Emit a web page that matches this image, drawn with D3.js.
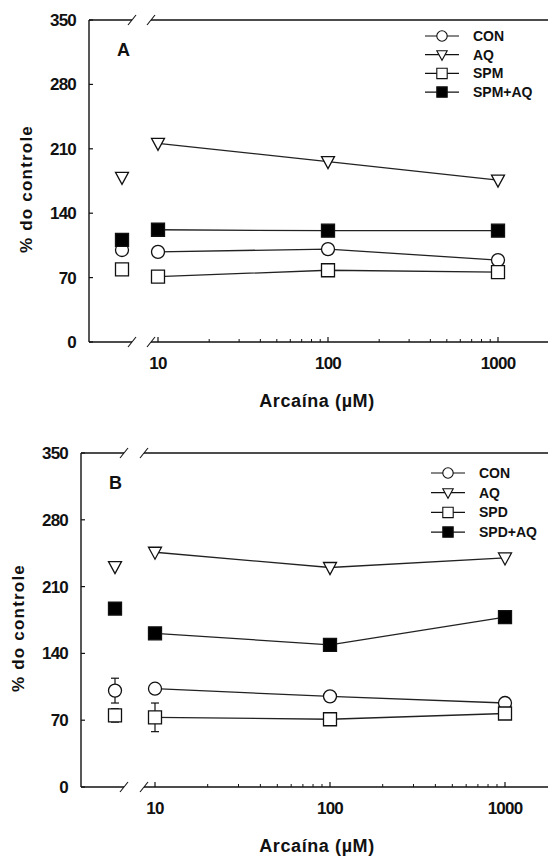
<!DOCTYPE html>
<html>
<head>
<meta charset="utf-8">
<script src="https://cdn.jsdelivr.net/npm/d3@7"></script>
<style>
  body { margin: 0; background: #fff; }
  svg { display: block; font-family: "Liberation Sans", Arial, sans-serif; }
</style>
</head>
<body>
<div id="chart"></div>
<script>
// doses on the log axis
const doses = [10, 100, 1000];
const yTicks = [0, 70, 140, 210, 280, 350];

// panel A
const namesA = ["CON", "AQ", "SPM", "SPM+AQ"];
const ctrlA = [100, 179, 79, 111];          // value at the "control" position (no arcaine)
const conA = [98, 101, 89];
const aqA = [216, 196, 176];
const spmA = [71, 78, 76];
const spmAqA = [122, 121, 121];

// panel B
const namesB = ["CON", "AQ", "SPD", "SPD+AQ"];
const ctrlB = [101, 231, 75, 187];
const ctrlErrB = [13, 0, 7, 0];
const conB = [103, 95, 88];
const aqB = [246, 230, 240];
const spdB = [73, 71, 77];
const spdAqB = [161, 149, 178];
const errSpdB = [15, 0, 0];

const shapes = ["circle", "triangle", "square", "filled"];

const W = 549, H = 857;
const svg = d3.select('#chart').append('svg').attr('width', W).attr('height', H);

function symbolPath(shape) {
  if (shape === 'circle') return d3.symbol(d3.symbolCircle, 133)();
  if (shape === 'triangle') return 'M-6.5,-5 L6.5,-5 L0,7 Z';
  return 'M-6.5,-6.5 H6.5 V6.5 H-6.5 Z';
}

function drawPanel(cfg) {
  const g = svg.append('g');
  const y = d3.scaleLinear().domain([0, 350]).range([cfg.bottom, cfg.top]);
  const x = d3.scaleLog().domain([10, 1000]).range([cfg.x10, cfg.x1000]);
  const ink = '#111';

  // left axis
  g.append('line').attr('x1', cfg.left).attr('x2', cfg.left)
    .attr('y1', cfg.top).attr('y2', cfg.bottom).attr('stroke', ink).attr('stroke-width', 1.4);
  g.selectAll('.yt').data(yTicks).enter().append('line')
    .attr('x1', cfg.left).attr('x2', cfg.left + 4)
    .attr('y1', d => y(d)).attr('y2', d => y(d)).attr('stroke', ink).attr('stroke-width', 1.2);
  g.selectAll('.yl').data(yTicks).enter().append('text')
    .attr('x', cfg.left - 13).attr('y', d => y(d) + 6)
    .attr('text-anchor', 'end').attr('font-size', 17).attr('font-weight', 'bold')
    .attr('letter-spacing', -0.8).attr('fill', ink).text(d => d);

  // top and bottom lines with break
  [cfg.top, cfg.bottom].forEach(yy => {
    g.append('line').attr('x1', cfg.left).attr('x2', cfg.brk[0]).attr('y1', yy).attr('y2', yy)
      .attr('stroke', ink).attr('stroke-width', 1.4);
    g.append('line').attr('x1', cfg.brk[1]).attr('x2', cfg.right).attr('y1', yy).attr('y2', yy)
      .attr('stroke', ink).attr('stroke-width', 1.4);
    cfg.brk.forEach(bx => {
      g.append('line').attr('x1', bx - 4).attr('x2', bx + 4).attr('y1', yy + 5).attr('y2', yy - 5)
        .attr('stroke', ink).attr('stroke-width', 1.1);
    });
  });

  // log ticks
  const minor = [];
  [10, 100].forEach(dec => { for (let k = 2; k <= 9; k++) minor.push(dec * k); });
  g.selectAll('.mt').data(minor).enter().append('line')
    .attr('x1', d => x(d)).attr('x2', d => x(d))
    .attr('y1', cfg.bottom).attr('y2', cfg.bottom - 3).attr('stroke', ink).attr('stroke-width', 1);
  g.selectAll('.xt').data(doses).enter().append('line')
    .attr('x1', d => x(d)).attr('x2', d => x(d))
    .attr('y1', cfg.bottom).attr('y2', cfg.bottom - 5).attr('stroke', ink).attr('stroke-width', 1.2);
  g.selectAll('.xl').data(doses).enter().append('text')
    .attr('x', d => x(d)).attr('y', cfg.bottom + 27)
    .attr('text-anchor', 'middle').attr('font-size', 17).attr('font-weight', 'bold')
    .attr('letter-spacing', -0.8).attr('fill', ink).text(d => d);

  // titles
  g.append('text').attr('x', 317).attr('y', cfg.bottom + 65)
    .attr('text-anchor', 'middle').attr('font-size', 18).attr('font-weight', 'bold')
    .attr('letter-spacing', 0.6).attr('fill', ink).text('Arcaína (µM)');
  g.append('text')
    .attr('transform', `translate(${cfg.left - 57},${(cfg.top + cfg.bottom) / 2 + 8}) rotate(-90)`)
    .attr('text-anchor', 'middle').attr('font-size', 17).attr('font-weight', 'bold')
    .attr('letter-spacing', 1.2).attr('fill', ink).text('% do controle');
  g.append('text').attr('x', cfg.left + 28).attr('y', cfg.top + 36)
    .attr('font-size', 18).attr('font-weight', 'bold').attr('fill', ink).text(cfg.label);

  const line = d3.line().x((d, i) => x(doses[i])).y(d => y(d));

  cfg.series.forEach((vals, s) => {
    const shape = shapes[s];
    g.append('path').attr('d', line(vals)).attr('fill', 'none')
      .attr('stroke', '#222').attr('stroke-width', 1.3);
    const pts = vals.map((v, i) => ({ x: x(doses[i]), v: v, e: (cfg.err[s] || [])[i] || 0 }));
    pts.push({ x: cfg.ctrlX, v: cfg.ctrl[s], e: cfg.ctrlErr[s] || 0 });
    pts.forEach(p => {
      if (p.e > 0) {
        g.append('line').attr('x1', p.x).attr('x2', p.x).attr('y1', y(p.v - p.e)).attr('y2', y(p.v + p.e))
          .attr('stroke', ink).attr('stroke-width', 1.2);
        [p.v - p.e, p.v + p.e].forEach(ev => {
          g.append('line').attr('x1', p.x - 4).attr('x2', p.x + 4).attr('y1', y(ev)).attr('y2', y(ev))
            .attr('stroke', ink).attr('stroke-width', 1.2);
        });
      }
    });
    g.selectAll(null).data(pts).enter().append('path')
      .attr('transform', p => `translate(${p.x},${y(p.v)})`)
      .attr('d', symbolPath(shape))
      .attr('fill', shape === 'filled' ? '#000' : '#fff')
      .attr('stroke', ink).attr('stroke-width', 1.3);
  });

  // legend
  cfg.names.forEach((n, i) => {
    const ly = cfg.legY + i * cfg.legStep;
    g.append('line').attr('x1', cfg.legX - 17).attr('x2', cfg.legX + 17)
      .attr('y1', ly).attr('y2', ly).attr('stroke', ink).attr('stroke-width', 1.2);
    g.append('path').attr('transform', `translate(${cfg.legX},${ly}) scale(0.8)`)
      .attr('d', symbolPath(shapes[i]))
      .attr('fill', shapes[i] === 'filled' ? '#000' : '#fff')
      .attr('stroke', ink).attr('stroke-width', 1.4);
    g.append('text').attr('x', cfg.legX + 31).attr('y', ly + 5)
      .attr('font-size', 14).attr('font-weight', 'bold').attr('fill', ink).text(n);
  });
}

drawPanel({
  label: 'A', top: 20, bottom: 342, left: 89, right: 548, brk: [132, 151],
  ctrlX: 122, x10: 158, x1000: 498,
  names: namesA, series: [conA, aqA, spmA, spmAqA], ctrl: ctrlA, ctrlErr: [], err: [],
  legX: 442, legY: 36, legStep: 18.7
});

drawPanel({
  label: 'B', top: 453, bottom: 787, left: 81, right: 548, brk: [124, 144],
  ctrlX: 115, x10: 155, x1000: 505,
  names: namesB, series: [conB, aqB, spdB, spdAqB], ctrl: ctrlB, ctrlErr: ctrlErrB,
  err: [[], [], errSpdB, []],
  legX: 448, legY: 473, legStep: 19.7
});
</script>
</body>
</html>
